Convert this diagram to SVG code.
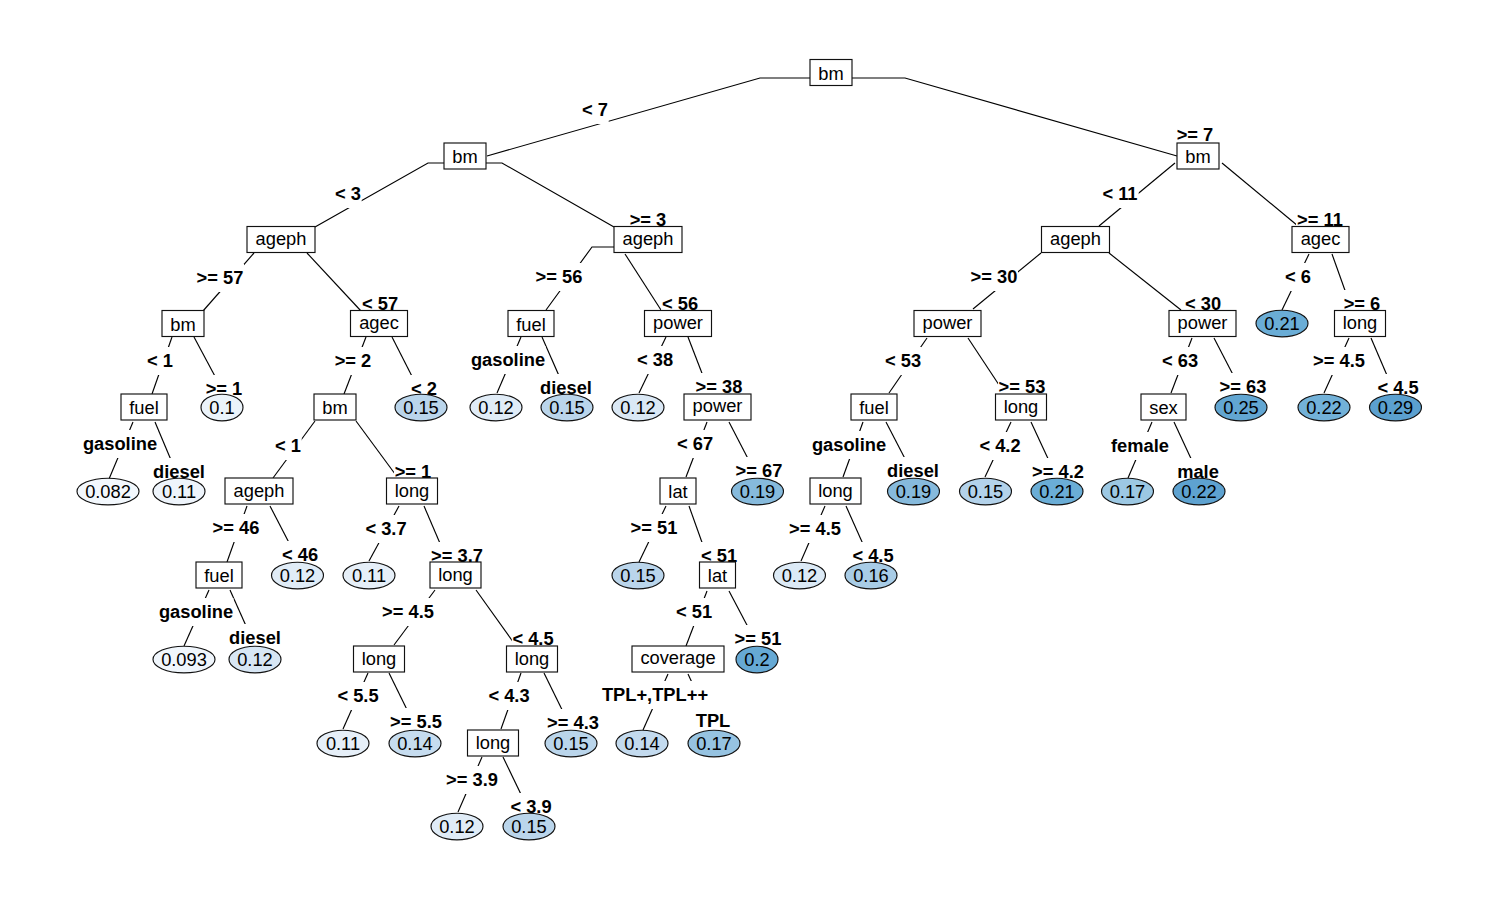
<svg xmlns="http://www.w3.org/2000/svg" width="1500" height="900" viewBox="0 0 1500 900">
<style>
.c line,.c polyline{stroke:#000;stroke-width:1.15;fill:none}
.m{fill:#fff}
.l{font-family:"Liberation Sans",Arial,sans-serif;font-size:18.3px;font-weight:bold;text-anchor:middle;fill:#000}
.b rect{fill:#fff;stroke:#111;stroke-width:1.15}
.lf ellipse{stroke:#111;stroke-width:1.15}
.t{font-family:"Liberation Sans",Arial,sans-serif;font-size:18.3px;text-anchor:middle;fill:#000}
</style>
<rect width="1500" height="900" fill="#fff"/>
<g id="connectors" class="c">
<polyline points="810,78 760,78 487,156"/>
<polyline points="852,78 905,78 1177,156"/>
<polyline points="444,163 428,163 315,227"/>
<polyline points="486,163 502,163 614,227"/>
<line x1="254" y1="253" x2="203" y2="311"/>
<line x1="307" y1="253" x2="361" y2="311"/>
<line x1="172" y1="337" x2="152" y2="394"/>
<line x1="194" y1="337" x2="225" y2="395"/>
<line x1="366" y1="337" x2="344" y2="394"/>
<line x1="392" y1="337" x2="421" y2="394"/>
<line x1="133" y1="422" x2="109" y2="479"/>
<line x1="155" y1="422" x2="179" y2="479"/>
<line x1="315" y1="421" x2="273" y2="478"/>
<line x1="356" y1="421" x2="398" y2="478"/>
<line x1="247" y1="506" x2="227" y2="562"/>
<line x1="270" y1="506" x2="299" y2="562"/>
<line x1="209" y1="590" x2="184" y2="646"/>
<line x1="230" y1="590" x2="255" y2="646"/>
<line x1="399" y1="506" x2="369" y2="561"/>
<line x1="424" y1="506" x2="448" y2="562"/>
<line x1="435" y1="590" x2="394" y2="645"/>
<line x1="476" y1="590" x2="516" y2="646"/>
<line x1="368" y1="673" x2="343" y2="729"/>
<line x1="389" y1="673" x2="417" y2="730"/>
<line x1="521" y1="673" x2="501" y2="729"/>
<line x1="544" y1="673" x2="572" y2="730"/>
<line x1="482" y1="757" x2="458" y2="812"/>
<line x1="503" y1="757" x2="530" y2="813"/>
<polyline points="614,247 592,247 546,310"/>
<line x1="625" y1="254" x2="661" y2="310"/>
<line x1="521" y1="337" x2="497" y2="393"/>
<line x1="542" y1="337" x2="567" y2="394"/>
<line x1="666" y1="337" x2="639" y2="393"/>
<line x1="688" y1="337" x2="710" y2="394"/>
<line x1="707" y1="422" x2="686" y2="477"/>
<line x1="729" y1="422" x2="758" y2="478"/>
<line x1="666" y1="506" x2="639" y2="562"/>
<line x1="689" y1="506" x2="709" y2="562"/>
<line x1="707" y1="591" x2="686" y2="646"/>
<line x1="729" y1="591" x2="758" y2="646"/>
<line x1="668" y1="674" x2="643" y2="730"/>
<line x1="688" y1="674" x2="714" y2="730"/>
<line x1="1175" y1="163" x2="1099" y2="226"/>
<line x1="1222" y1="163" x2="1298" y2="226"/>
<line x1="1041" y1="253" x2="973" y2="309"/>
<line x1="1109" y1="253" x2="1181" y2="310"/>
<line x1="1309" y1="254" x2="1282" y2="310"/>
<line x1="1332" y1="254" x2="1352" y2="310"/>
<line x1="1192" y1="338" x2="1171" y2="393"/>
<line x1="1214" y1="338" x2="1243" y2="394"/>
<line x1="1349" y1="338" x2="1324" y2="393"/>
<line x1="1371" y1="338" x2="1395" y2="394"/>
<line x1="1152" y1="422" x2="1128" y2="478"/>
<line x1="1174" y1="422" x2="1200" y2="478"/>
<line x1="927" y1="338" x2="889" y2="393"/>
<line x1="968" y1="338" x2="1005" y2="394"/>
<line x1="863" y1="422" x2="843" y2="477"/>
<line x1="886" y1="422" x2="915" y2="478"/>
<line x1="1011" y1="422" x2="985" y2="477"/>
<line x1="1031" y1="422" x2="1057" y2="478"/>
<line x1="825" y1="506" x2="801" y2="561"/>
<line x1="846" y1="506" x2="871" y2="562"/>
<g id="label-masks" class="m">
<rect x="581.2" y="96" width="27.5" height="28"/>
<rect x="1176" y="121" width="38" height="28"/>
<rect x="334.2" y="180" width="27.5" height="28"/>
<rect x="629" y="206" width="38" height="28"/>
<rect x="196" y="264" width="48" height="28"/>
<rect x="361.2" y="290" width="37.5" height="28"/>
<rect x="146.2" y="347" width="27.5" height="28"/>
<rect x="205" y="375" width="38" height="28"/>
<rect x="334" y="347" width="38" height="28"/>
<rect x="410.2" y="375" width="27.5" height="28"/>
<rect x="82.5" y="430" width="75" height="28"/>
<rect x="152.5" y="458" width="53" height="28"/>
<rect x="274.2" y="432" width="27.5" height="28"/>
<rect x="394" y="458" width="38" height="28"/>
<rect x="212" y="514" width="48" height="28"/>
<rect x="281.2" y="541" width="37.5" height="28"/>
<rect x="158.5" y="598" width="75" height="28"/>
<rect x="228.5" y="624" width="53" height="28"/>
<rect x="364.8" y="515" width="42.5" height="28"/>
<rect x="430.5" y="542" width="53" height="28"/>
<rect x="381.5" y="598" width="53" height="28"/>
<rect x="511.8" y="625" width="42.5" height="28"/>
<rect x="336.8" y="682" width="42.5" height="28"/>
<rect x="389.5" y="708" width="53" height="28"/>
<rect x="487.8" y="682" width="42.5" height="28"/>
<rect x="546.5" y="709" width="53" height="28"/>
<rect x="445.5" y="766" width="53" height="28"/>
<rect x="509.8" y="793" width="42.5" height="28"/>
<rect x="535" y="263" width="48" height="28"/>
<rect x="661.2" y="290" width="37.5" height="28"/>
<rect x="470.5" y="346" width="75" height="28"/>
<rect x="539.5" y="374" width="53" height="28"/>
<rect x="636.2" y="346" width="37.5" height="28"/>
<rect x="695" y="373" width="48" height="28"/>
<rect x="676.2" y="430" width="37.5" height="28"/>
<rect x="735" y="457" width="48" height="28"/>
<rect x="630" y="514" width="48" height="28"/>
<rect x="700.2" y="542" width="37.5" height="28"/>
<rect x="675.2" y="598" width="37.5" height="28"/>
<rect x="734" y="625" width="48" height="28"/>
<rect x="601.8" y="681" width="106.5" height="28"/>
<rect x="695" y="707" width="36" height="28"/>
<rect x="1101.2" y="180" width="37.5" height="28"/>
<rect x="1296" y="206" width="48" height="28"/>
<rect x="970" y="263" width="48" height="28"/>
<rect x="1184.2" y="290" width="37.5" height="28"/>
<rect x="1284.2" y="263" width="27.5" height="28"/>
<rect x="1343" y="290" width="38" height="28"/>
<rect x="1161.2" y="347" width="37.5" height="28"/>
<rect x="1219" y="373" width="48" height="28"/>
<rect x="1312.5" y="347" width="53" height="28"/>
<rect x="1376.8" y="374" width="42.5" height="28"/>
<rect x="1110.5" y="432" width="59" height="28"/>
<rect x="1176.5" y="458" width="43" height="28"/>
<rect x="884.2" y="347" width="37.5" height="28"/>
<rect x="998" y="373" width="48" height="28"/>
<rect x="811.5" y="431" width="75" height="28"/>
<rect x="886.5" y="457" width="53" height="28"/>
<rect x="978.8" y="432" width="42.5" height="28"/>
<rect x="1031.5" y="458" width="53" height="28"/>
<rect x="788.5" y="515" width="53" height="28"/>
<rect x="851.8" y="542" width="42.5" height="28"/>
</g>
<g id="edge-labels" class="l">
<text x="595" y="116">&lt; 7</text>
<text x="1195" y="141">&gt;= 7</text>
<text x="348" y="200">&lt; 3</text>
<text x="648" y="226">&gt;= 3</text>
<text x="220" y="284">&gt;= 57</text>
<text x="380" y="310">&lt; 57</text>
<text x="160" y="367">&lt; 1</text>
<text x="224" y="395">&gt;= 1</text>
<text x="353" y="367">&gt;= 2</text>
<text x="424" y="395">&lt; 2</text>
<text x="120" y="450">gasoline</text>
<text x="179" y="478">diesel</text>
<text x="288" y="452">&lt; 1</text>
<text x="413" y="478">&gt;= 1</text>
<text x="236" y="534">&gt;= 46</text>
<text x="300" y="561">&lt; 46</text>
<text x="196" y="618">gasoline</text>
<text x="255" y="644">diesel</text>
<text x="386" y="535">&lt; 3.7</text>
<text x="457" y="562">&gt;= 3.7</text>
<text x="408" y="618">&gt;= 4.5</text>
<text x="533" y="645">&lt; 4.5</text>
<text x="358" y="702">&lt; 5.5</text>
<text x="416" y="728">&gt;= 5.5</text>
<text x="509" y="702">&lt; 4.3</text>
<text x="573" y="729">&gt;= 4.3</text>
<text x="472" y="786">&gt;= 3.9</text>
<text x="531" y="813">&lt; 3.9</text>
<text x="559" y="283">&gt;= 56</text>
<text x="680" y="310">&lt; 56</text>
<text x="508" y="366">gasoline</text>
<text x="566" y="394">diesel</text>
<text x="655" y="366">&lt; 38</text>
<text x="719" y="393">&gt;= 38</text>
<text x="695" y="450">&lt; 67</text>
<text x="759" y="477">&gt;= 67</text>
<text x="654" y="534">&gt;= 51</text>
<text x="719" y="562">&lt; 51</text>
<text x="694" y="618">&lt; 51</text>
<text x="758" y="645">&gt;= 51</text>
<text x="655" y="701">TPL+,TPL++</text>
<text x="713" y="727">TPL</text>
<text x="1120" y="200">&lt; 11</text>
<text x="1320" y="226">&gt;= 11</text>
<text x="994" y="283">&gt;= 30</text>
<text x="1203" y="310">&lt; 30</text>
<text x="1298" y="283">&lt; 6</text>
<text x="1362" y="310">&gt;= 6</text>
<text x="1180" y="367">&lt; 63</text>
<text x="1243" y="393">&gt;= 63</text>
<text x="1339" y="367">&gt;= 4.5</text>
<text x="1398" y="394">&lt; 4.5</text>
<text x="1140" y="452">female</text>
<text x="1198" y="478">male</text>
<text x="903" y="367">&lt; 53</text>
<text x="1022" y="393">&gt;= 53</text>
<text x="849" y="451">gasoline</text>
<text x="913" y="477">diesel</text>
<text x="1000" y="452">&lt; 4.2</text>
<text x="1058" y="478">&gt;= 4.2</text>
<text x="815" y="535">&gt;= 4.5</text>
<text x="873" y="562">&lt; 4.5</text>
</g>
</g>
<g class="b">
<g id="n-root-bm"><rect x="810" y="59.5" width="42" height="26"/><text class="t" x="831" y="79.5">bm</text></g>
<g id="n-bm-L1a"><rect x="444" y="143" width="42" height="26"/><text class="t" x="465" y="163">bm</text></g>
<g id="n-bm-L1b"><rect x="1177" y="143" width="42" height="26"/><text class="t" x="1198" y="163">bm</text></g>
<g id="n-ageph-281"><rect x="247" y="226.5" width="68" height="26"/><text class="t" x="281" y="245">ageph</text></g>
<g id="n-ageph-648"><rect x="614" y="226.5" width="68" height="26"/><text class="t" x="648" y="245">ageph</text></g>
<g id="n-ageph-1075"><rect x="1041.5" y="226.5" width="68" height="26"/><text class="t" x="1075.5" y="245">ageph</text></g>
<g id="n-agec-1320"><rect x="1292" y="226.5" width="57" height="26"/><text class="t" x="1320.5" y="245">agec</text></g>
<g id="n-bm-183"><rect x="162" y="310.5" width="42" height="26"/><text class="t" x="183" y="330.5">bm</text></g>
<g id="n-agec-379"><rect x="350.5" y="310.5" width="57" height="26"/><text class="t" x="379" y="329">agec</text></g>
<g id="n-fuel-531"><rect x="508" y="310.5" width="46" height="26"/><text class="t" x="531" y="330.5">fuel</text></g>
<g id="n-power-678"><rect x="644.5" y="310.5" width="67" height="26"/><text class="t" x="678" y="328.5">power</text></g>
<g id="n-power-947"><rect x="914" y="310.5" width="67" height="26"/><text class="t" x="947.5" y="328.5">power</text></g>
<g id="n-power-1202"><rect x="1169" y="310.5" width="67" height="26"/><text class="t" x="1202.5" y="328.5">power</text></g>
<g id="n-long-1360"><rect x="1334.5" y="310.5" width="51" height="26"/><text class="t" x="1360" y="329">long</text></g>
<g id="n-fuel-144"><rect x="121" y="394" width="46" height="26"/><text class="t" x="144" y="414">fuel</text></g>
<g id="n-bm-335"><rect x="314" y="394" width="42" height="26"/><text class="t" x="335" y="414">bm</text></g>
<g id="n-power-717"><rect x="684" y="394" width="67" height="26"/><text class="t" x="717.5" y="412">power</text></g>
<g id="n-fuel-874"><rect x="851" y="394" width="46" height="26"/><text class="t" x="874" y="414">fuel</text></g>
<g id="n-long-1021"><rect x="995.5" y="394" width="51" height="26"/><text class="t" x="1021" y="412.5">long</text></g>
<g id="n-sex-1163"><rect x="1141" y="394" width="45" height="26"/><text class="t" x="1163.5" y="414">sex</text></g>
<g id="n-ageph-259"><rect x="225" y="478" width="68" height="26"/><text class="t" x="259" y="496.5">ageph</text></g>
<g id="n-long-412"><rect x="386.5" y="478" width="51" height="26"/><text class="t" x="412" y="496.5">long</text></g>
<g id="n-lat-678"><rect x="660" y="478" width="36" height="26"/><text class="t" x="678" y="498">lat</text></g>
<g id="n-long-835"><rect x="810" y="478" width="51" height="26"/><text class="t" x="835.5" y="496.5">long</text></g>
<g id="n-fuel-219"><rect x="196" y="562" width="46" height="26"/><text class="t" x="219" y="582">fuel</text></g>
<g id="n-long-455"><rect x="430" y="562" width="51" height="26"/><text class="t" x="455.5" y="580.5">long</text></g>
<g id="n-lat-717"><rect x="699.5" y="562" width="36" height="26"/><text class="t" x="717.5" y="582">lat</text></g>
<g id="n-long-379"><rect x="353.5" y="646" width="51" height="26"/><text class="t" x="379" y="664.5">long</text></g>
<g id="n-long-532"><rect x="506.5" y="646" width="51" height="26"/><text class="t" x="532" y="664.5">long</text></g>
<g id="n-coverage-678"><rect x="632" y="646" width="92" height="26"/><text class="t" x="678" y="663.5">coverage</text></g>
<g id="n-long-493"><rect x="467.5" y="730" width="51" height="26"/><text class="t" x="493" y="748.5">long</text></g>
</g>
<g class="lf">
<g id="leaf-021a"><ellipse cx="1282" cy="323.5" rx="26" ry="13.3" fill="#6AADD6"/><text class="t" x="1282" y="330">0.21</text></g>
<g id="leaf-01"><ellipse cx="222" cy="407.5" rx="21" ry="13.3" fill="#EBF3FA"/><text class="t" x="222" y="414">0.1</text></g>
<g id="leaf-015a"><ellipse cx="421" cy="407.5" rx="26" ry="13.3" fill="#BAD5EB"/><text class="t" x="421" y="414">0.15</text></g>
<g id="leaf-012a"><ellipse cx="496" cy="407.5" rx="26" ry="13.3" fill="#E0ECF7"/><text class="t" x="496" y="414">0.12</text></g>
<g id="leaf-015b"><ellipse cx="567" cy="407.5" rx="26" ry="13.3" fill="#BAD5EB"/><text class="t" x="567" y="414">0.15</text></g>
<g id="leaf-012b"><ellipse cx="638" cy="407.5" rx="26" ry="13.3" fill="#DAE8F5"/><text class="t" x="638" y="414">0.12</text></g>
<g id="leaf-025"><ellipse cx="1241" cy="407.5" rx="26" ry="13.3" fill="#62A6D2"/><text class="t" x="1241" y="414">0.25</text></g>
<g id="leaf-022a"><ellipse cx="1324" cy="407.5" rx="26" ry="13.3" fill="#72B1D8"/><text class="t" x="1324" y="414">0.22</text></g>
<g id="leaf-029"><ellipse cx="1395.5" cy="407.5" rx="26" ry="13.3" fill="#5BA0CF"/><text class="t" x="1395.5" y="414">0.29</text></g>
<g id="leaf-0082"><ellipse cx="108" cy="491.5" rx="31" ry="13.3" fill="#F3F8FD"/><text class="t" x="108" y="498">0.082</text></g>
<g id="leaf-011a"><ellipse cx="179" cy="491.5" rx="26" ry="13.3" fill="#EEF4FB"/><text class="t" x="179" y="498">0.11</text></g>
<g id="leaf-019a"><ellipse cx="757.5" cy="491.5" rx="26" ry="13.3" fill="#86BADC"/><text class="t" x="757.5" y="498">0.19</text></g>
<g id="leaf-019b"><ellipse cx="913.5" cy="491.5" rx="26" ry="13.3" fill="#86BADC"/><text class="t" x="913.5" y="498">0.19</text></g>
<g id="leaf-015c"><ellipse cx="985.5" cy="491.5" rx="26" ry="13.3" fill="#B3D2EA"/><text class="t" x="985.5" y="498">0.15</text></g>
<g id="leaf-021b"><ellipse cx="1057" cy="491.5" rx="26" ry="13.3" fill="#6AADD6"/><text class="t" x="1057" y="498">0.21</text></g>
<g id="leaf-017a"><ellipse cx="1127.5" cy="491.5" rx="26" ry="13.3" fill="#9CC8E3"/><text class="t" x="1127.5" y="498">0.17</text></g>
<g id="leaf-022b"><ellipse cx="1199" cy="491.5" rx="26" ry="13.3" fill="#5EA2D0"/><text class="t" x="1199" y="498">0.22</text></g>
<g id="leaf-012c"><ellipse cx="297.5" cy="575.5" rx="26" ry="13.3" fill="#E0ECF7"/><text class="t" x="297.5" y="582">0.12</text></g>
<g id="leaf-011b"><ellipse cx="369" cy="575.5" rx="26" ry="13.3" fill="#E6EFF8"/><text class="t" x="369" y="582">0.11</text></g>
<g id="leaf-015d"><ellipse cx="638" cy="575.5" rx="26" ry="13.3" fill="#BAD5EB"/><text class="t" x="638" y="582">0.15</text></g>
<g id="leaf-012d"><ellipse cx="799.5" cy="575.5" rx="26" ry="13.3" fill="#DCEAF6"/><text class="t" x="799.5" y="582">0.12</text></g>
<g id="leaf-016"><ellipse cx="871" cy="575.5" rx="26" ry="13.3" fill="#A8CCE6"/><text class="t" x="871" y="582">0.16</text></g>
<g id="leaf-0093"><ellipse cx="184" cy="659.5" rx="31" ry="13.3" fill="#F0F6FC"/><text class="t" x="184" y="666">0.093</text></g>
<g id="leaf-012e"><ellipse cx="255" cy="659.5" rx="26" ry="13.3" fill="#D7E6F4"/><text class="t" x="255" y="666">0.12</text></g>
<g id="leaf-02"><ellipse cx="757" cy="659.5" rx="21" ry="13.3" fill="#66A9D4"/><text class="t" x="757" y="666">0.2</text></g>
<g id="leaf-011c"><ellipse cx="343" cy="743.5" rx="26" ry="13.3" fill="#E6EFF8"/><text class="t" x="343" y="750">0.11</text></g>
<g id="leaf-014a"><ellipse cx="415" cy="743.5" rx="26" ry="13.3" fill="#C6DCEF"/><text class="t" x="415" y="750">0.14</text></g>
<g id="leaf-015e"><ellipse cx="571" cy="743.5" rx="26" ry="13.3" fill="#BAD5EB"/><text class="t" x="571" y="750">0.15</text></g>
<g id="leaf-014b"><ellipse cx="642" cy="743.5" rx="26" ry="13.3" fill="#C3DAEE"/><text class="t" x="642" y="750">0.14</text></g>
<g id="leaf-017b"><ellipse cx="714" cy="743.5" rx="26" ry="13.3" fill="#96C3E1"/><text class="t" x="714" y="750">0.17</text></g>
<g id="leaf-012f"><ellipse cx="457" cy="826.5" rx="26" ry="13.3" fill="#E0ECF7"/><text class="t" x="457" y="833">0.12</text></g>
<g id="leaf-015f"><ellipse cx="529" cy="826.5" rx="26" ry="13.3" fill="#BAD5EB"/><text class="t" x="529" y="833">0.15</text></g>
</g>
</svg>
